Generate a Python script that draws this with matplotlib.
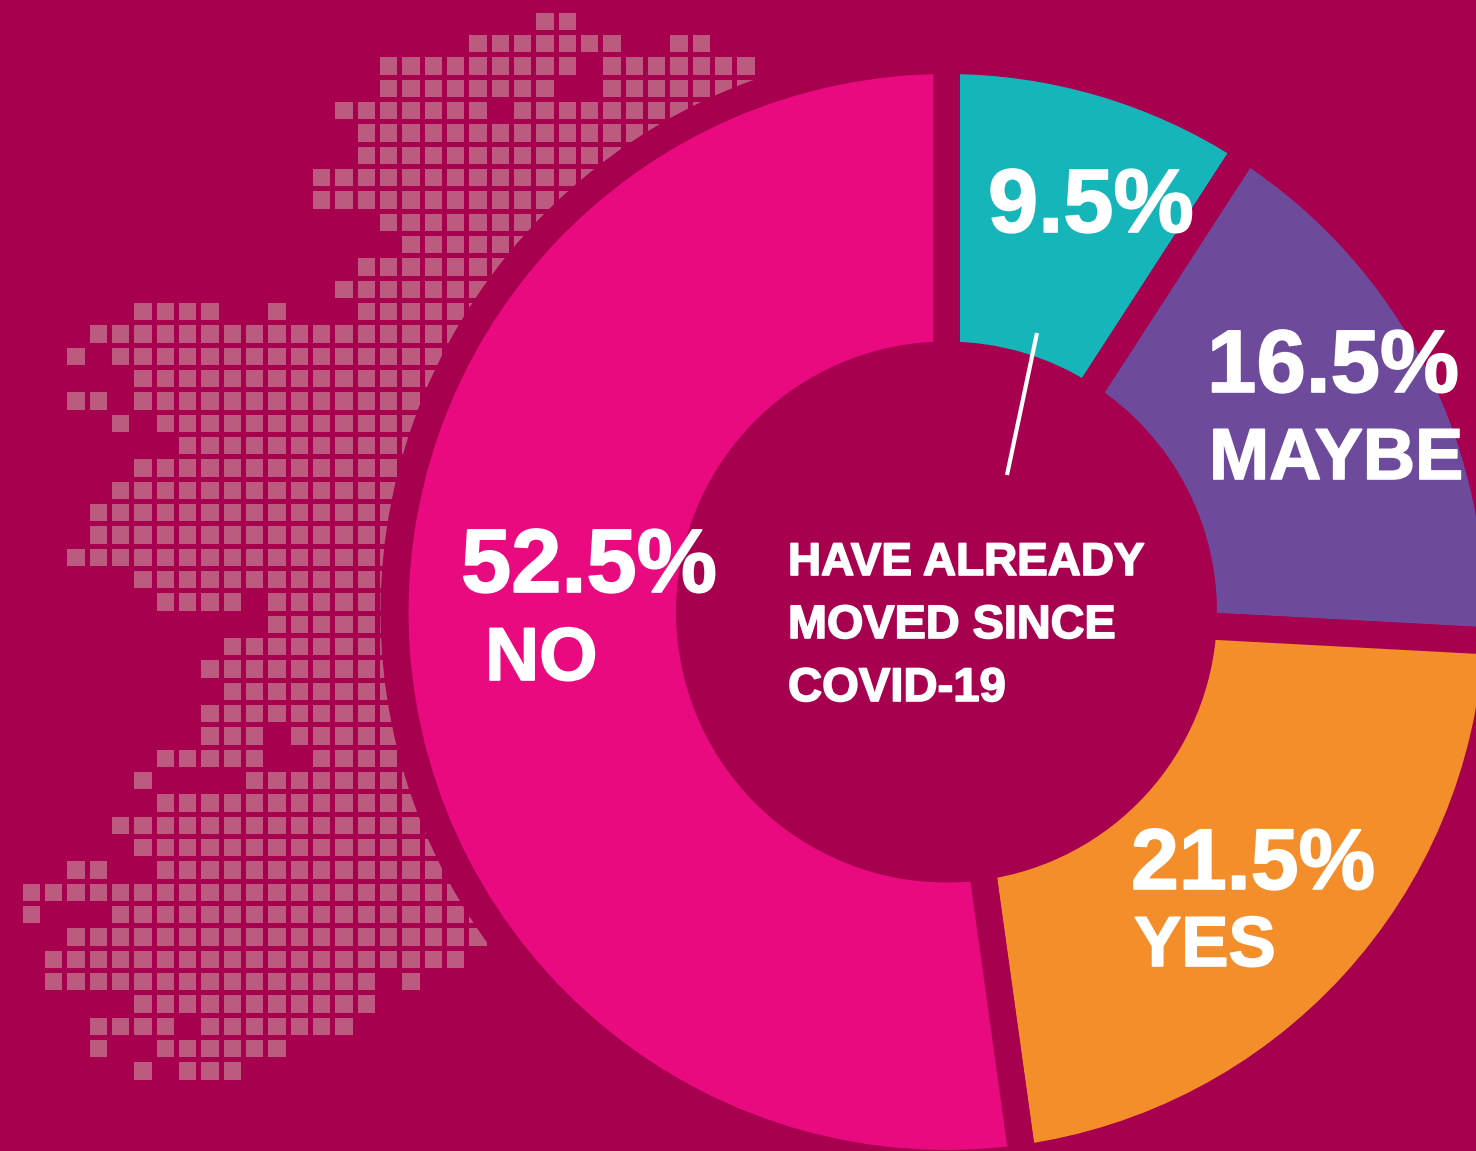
import matplotlib
matplotlib.use("Agg")
import matplotlib.pyplot as plt
from matplotlib.patches import Rectangle, Circle
import matplotlib.patheffects as pe

categories = ["Already moved", "Maybe", "Yes", "No"]
# wedge sweeps as drawn in the picture (share of the full circle, measured from the edges)
shares = [9.15, 16.7, 21.95, 52.2]
colors = ["#16B5B9", "#6E4A9C", "#F48E2B", "#E90A80"]
value_labels = ["9.5%", "16.5%", "21.5%", "52.5%"]
name_labels = ["MAYBE", "YES", "NO"]
center_lines = ["HAVE ALREADY", "MOVED SINCE", "COVID-19"]

BG = "#A6004F"
CELL = "#BC5B7F"
FONT = "Liberation Sans"

# dot map of Ireland: per grid row, a list of (first column, last column) runs
map_rows = [
    [(23, 24)], [(20, 26), (29, 30)], [(16, 24), (26, 32)], [(16, 23), (26, 32)],
    [(14, 20), (22, 34)], [(15, 34)], [(15, 34)], [(13, 34)], [(13, 34)], [(16, 34)],
    [(17, 34)], [(15, 34)], [(14, 34)], [(5, 8), (11, 11), (15, 34)], [(3, 34)],
    [(2, 2), (4, 34)], [(5, 34)], [(2, 3), (5, 34)], [(4, 4), (6, 34)], [(7, 34)],
    [(5, 34)], [(4, 34)], [(3, 34)], [(3, 34)], [(2, 34)], [(5, 34)],
    [(6, 9), (11, 34)], [(11, 34)], [(9, 34)], [(8, 34)], [(9, 34)], [(8, 34)],
    [(8, 10), (12, 34)], [(6, 10), (13, 34)], [(5, 5), (10, 34)], [(6, 34)], [(4, 34)],
    [(5, 34)], [(2, 3), (6, 34)], [(0, 34)], [(0, 0), (4, 34)], [(2, 34)], [(1, 19)],
    [(1, 15), (17, 17)], [(5, 15)], [(3, 6), (8, 14)], [(3, 3), (6, 11)], [(5, 5), (7, 9)],
]

W, H = 1476, 1151
CX, CY = 946.5, 612
R_OUT, R_IN, GAP, HALO = 538, 270.5, 27, 566
PITCH, CELL_SIZE, X0, Y0 = 22.33, 17.4, 22.7, 12.7

fig = plt.figure(figsize=(W / 100, H / 100), dpi=100, facecolor=BG)
ax = fig.add_axes([0, 0, 1, 1])
ax.set_facecolor(BG)

for r, runs in enumerate(map_rows):
    for a, b in runs:
        for c in range(a, b + 1):
            ax.add_patch(Rectangle((X0 + c * PITCH, Y0 + r * PITCH), CELL_SIZE, CELL_SIZE,
                                   facecolor=CELL, edgecolor="none", zorder=1))

ax.add_patch(Circle((CX, CY), HALO, facecolor=BG, edgecolor="none", zorder=2))

outer = R_OUT + GAP / 2
wedges, _ = ax.pie(shares, colors=colors, startangle=270, counterclock=True,
                   center=(CX, CY), radius=outer, frame=True,
                   wedgeprops=dict(width=outer - (R_IN - GAP / 2), edgecolor=BG,
                                   linewidth=GAP * 0.72, joinstyle="miter"))
for w in wedges:
    w.set_zorder(3)

ax.plot([1037, 1007], [333, 475], color="white", lw=3.0, zorder=4, solid_capstyle="butt")

bold = [pe.withStroke(linewidth=1.2, foreground="white")]
value_pos = [(988, 232), (1207, 392), (1131, 889), (461, 592)]
value_size = [65, 64, 62, 65]
name_pos = [(1209, 479), (1134, 966), (485, 680)]
name_size = [52, 51, 54]
center_pos = [(788, 575), (788, 638), (788, 701)]
center_size = [33, 33.7, 34]
def put(s, pos, size):
    ax.text(pos[0], pos[1], s, color="white", fontsize=size, fontweight="bold", family=FONT,
            ha="left", va="baseline", zorder=5, path_effects=bold)
for s, p, z in zip(value_labels, value_pos, value_size):
    put(s, p, z)
for s, p, z in zip(name_labels, name_pos, name_size):
    put(s, p, z)
for s, p, z in zip(center_lines, center_pos, center_size):
    put(s, p, z)

ax.set_xlim(0, W)
ax.set_ylim(H, 0)
ax.set_aspect("auto")
ax.axis("off")
fig.savefig("out.png", dpi=100, facecolor=BG)
